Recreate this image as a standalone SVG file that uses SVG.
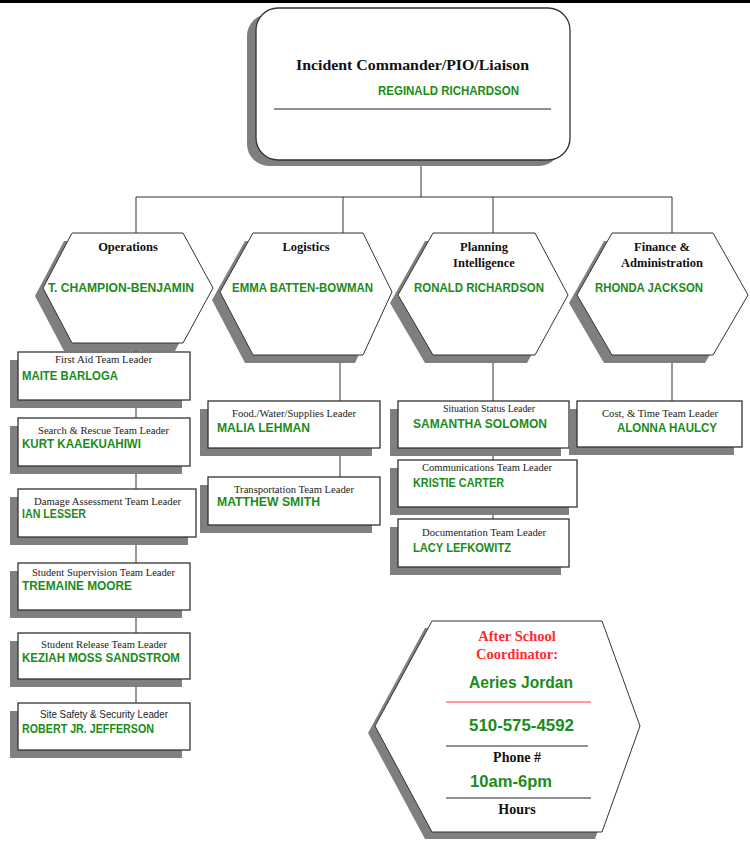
<svg xmlns="http://www.w3.org/2000/svg" width="750" height="849" viewBox="0 0 750 849">
<style>
.sh{fill:#7f7f7f;stroke:none}
.bx{fill:#fff;stroke:#333;stroke-width:1.3}
.hx{fill:#fff;stroke:#333;stroke-width:1}
.cn{stroke:#333;stroke-width:1;fill:none}
.nm{font-family:"Liberation Sans",Arial,sans-serif;font-weight:bold;font-size:13px;fill:#1a8c1a}
.tt{font-family:"Liberation Serif","Times New Roman",serif;font-size:11px;fill:#222}
.ht{font-family:"Liberation Serif","Times New Roman",serif;font-weight:bold;font-size:12.5px;fill:#111;text-anchor:middle}
.big{font-family:"Liberation Sans",Arial,sans-serif;font-weight:bold;font-size:17px;fill:#1a8c1a}
.red{font-family:"Liberation Serif","Times New Roman",serif;font-weight:bold;font-size:14.5px;fill:#ff2a2a;text-anchor:middle}
.lbl{font-family:"Liberation Serif","Times New Roman",serif;font-weight:bold;font-size:14px;fill:#111;text-anchor:middle}
</style>
<rect x="0" y="0" width="750" height="849" fill="#fff"/>
<rect x="0" y="0" width="750" height="3" fill="#000"/>

<g id="connectors" class="cn">
<path d="M421 160V197M136 197H672M136 197V233M343 197V233M493 197V233M672 197V233"/>
<path d="M136 343V703"/>
<path d="M340 355V477"/>
<path d="M493 355V519"/>
<path d="M672 355V401"/>
</g>

<g id="commander">
<rect class="sh" x="247" y="14" width="314" height="152" rx="22"/>
<rect class="bx" x="256" y="8" width="314" height="152" rx="22"/>
<text x="296" y="70" font-family="Liberation Serif,serif" font-weight="bold" font-size="15" fill="#111" textLength="233" lengthAdjust="spacingAndGlyphs">Incident Commander/PIO/Liaison</text>
<text class="nm" x="378" y="95" textLength="141" lengthAdjust="spacingAndGlyphs">REGINALD RICHARDSON</text>
<line x1="274" y1="109" x2="551" y2="109" stroke="#222" stroke-width="1"/>
</g>

<g id="operations">
<polygon class="sh" points="64,241 175,241 205,296 175,351 64,351 35,296"/>
<polygon class="hx" points="72,233 183,233 213,288 183,343 72,343 43,288"/>
<text class="ht" x="128" y="251">Operations</text>
<text class="nm" x="48" y="292" textLength="146" lengthAdjust="spacingAndGlyphs">T. CHAMPION-BENJAMIN</text>
</g>

<g id="logistics">
<polygon class="sh" points="245,241 355,241 384,300 355,363 245,363 212,300"/>
<polygon class="hx" points="253,233 363,233 392,292 363,355 253,355 220,292"/>
<text class="ht" x="306" y="251">Logistics</text>
<text class="nm" x="232" y="292" textLength="141" lengthAdjust="spacingAndGlyphs">EMMA BATTEN-BOWMAN</text>
</g>

<g id="planning">
<polygon class="sh" points="425,241 527,241 560,303 527,363 425,363 390,303"/>
<polygon class="hx" points="433,233 535,233 568,295 535,355 433,355 398,295"/>
<text class="ht" x="484" y="251">Planning</text>
<text class="ht" x="484" y="267">Intelligence</text>
<text class="nm" x="414" y="292" textLength="130" lengthAdjust="spacingAndGlyphs">RONALD RICHARDSON</text>
</g>

<g id="finance">
<polygon class="sh" points="604,241 705,241 740,303 705,363 604,363 569,303"/>
<polygon class="hx" points="612,233 713,233 748,295 713,355 612,355 577,295"/>
<text class="ht" x="662" y="251">Finance &amp;</text>
<text class="ht" x="662" y="267">Administration</text>
<text class="nm" x="595" y="292" textLength="108" lengthAdjust="spacingAndGlyphs">RHONDA JACKSON</text>
</g>

<g id="first-aid">
<rect class="sh" x="10" y="360" width="172" height="48"/>
<rect class="bx" x="18" y="352" width="172" height="48"/>
<text class="tt" x="55" y="363" textLength="97" lengthAdjust="spacingAndGlyphs">First Aid Team Leader</text>
<text class="nm" x="22" y="380" textLength="96" lengthAdjust="spacingAndGlyphs">MAITE BARLOGA</text>
</g>

<g id="search-rescue">
<rect class="sh" x="10" y="426" width="172" height="48"/>
<rect class="bx" x="18" y="418" width="172" height="48"/>
<text class="tt" x="38" y="433.5" textLength="131" lengthAdjust="spacingAndGlyphs">Search &amp; Rescue Team Leader</text>
<text class="nm" x="22" y="448" textLength="119" lengthAdjust="spacingAndGlyphs">KURT KAAEKUAHIWI</text>
</g>

<g id="damage-assessment">
<rect class="sh" x="10" y="497" width="178" height="48"/>
<rect class="bx" x="18" y="489" width="178" height="48"/>
<text class="tt" x="34" y="504.5" textLength="147" lengthAdjust="spacingAndGlyphs">Damage Assessment Team Leader</text>
<text class="nm" x="22" y="518" textLength="64" lengthAdjust="spacingAndGlyphs">IAN LESSER</text>
</g>

<g id="student-supervision">
<rect class="sh" x="10" y="571" width="172" height="47"/>
<rect class="bx" x="18" y="563" width="172" height="47"/>
<text class="tt" x="32" y="576" textLength="143" lengthAdjust="spacingAndGlyphs">Student Supervision Team Leader</text>
<text class="nm" x="22" y="590" textLength="110" lengthAdjust="spacingAndGlyphs">TREMAINE MOORE</text>
</g>

<g id="student-release">
<rect class="sh" x="10" y="641" width="172" height="46"/>
<rect class="bx" x="18" y="633" width="172" height="46"/>
<text class="tt" x="41" y="647.5" textLength="126" lengthAdjust="spacingAndGlyphs">Student Release Team Leader</text>
<text class="nm" x="22" y="662" textLength="158" lengthAdjust="spacingAndGlyphs">KEZIAH MOSS SANDSTROM</text>
</g>

<g id="site-safety">
<rect class="sh" x="10" y="711" width="172" height="47"/>
<rect class="bx" x="18" y="703" width="172" height="47"/>
<text x="40" y="717.5" font-family="Liberation Sans,Arial,sans-serif" font-size="10.5" fill="#222" textLength="128" lengthAdjust="spacingAndGlyphs">Site Safety &amp; Security Leader</text>
<text class="nm" x="22" y="733" textLength="132" lengthAdjust="spacingAndGlyphs">ROBERT JR. JEFFERSON</text>
</g>

<g id="food-water">
<rect class="sh" x="200" y="409" width="172" height="47"/>
<rect class="bx" x="208" y="401" width="172" height="47"/>
<text class="tt" x="232" y="416.5" textLength="124" lengthAdjust="spacingAndGlyphs">Food./Water/Supplies Leader</text>
<text class="nm" x="217" y="432" textLength="93" lengthAdjust="spacingAndGlyphs">MALIA LEHMAN</text>
</g>

<g id="transportation">
<rect class="sh" x="200" y="485" width="172" height="48"/>
<rect class="bx" x="208" y="477" width="172" height="48"/>
<text class="tt" x="234" y="492.5" textLength="120" lengthAdjust="spacingAndGlyphs">Transportation Team Leader</text>
<text class="nm" x="217" y="506" textLength="103" lengthAdjust="spacingAndGlyphs">MATTHEW SMITH</text>
</g>

<g id="situation">
<rect class="sh" x="390" y="409" width="171" height="47"/>
<rect class="bx" x="398" y="401" width="171" height="47"/>
<text class="tt" x="443" y="412" fill="#555" textLength="92" lengthAdjust="spacingAndGlyphs">Situation Status Leader</text>
<text class="nm" x="413" y="428" textLength="134" lengthAdjust="spacingAndGlyphs">SAMANTHA SOLOMON</text>
</g>

<g id="communications">
<rect class="sh" x="390" y="468" width="179" height="47"/>
<rect class="bx" x="398" y="460" width="179" height="47"/>
<text class="tt" x="422" y="471" textLength="130" lengthAdjust="spacingAndGlyphs">Communications Team Leader</text>
<text class="nm" x="413" y="487" textLength="91" lengthAdjust="spacingAndGlyphs">KRISTIE CARTER</text>
</g>

<g id="documentation">
<rect class="sh" x="390" y="527" width="171" height="48"/>
<rect class="bx" x="398" y="519" width="171" height="48"/>
<text class="tt" x="422" y="535.5" textLength="124" lengthAdjust="spacingAndGlyphs">Documentation Team Leader</text>
<text class="nm" x="413" y="552" textLength="98" lengthAdjust="spacingAndGlyphs">LACY LEFKOWITZ</text>
</g>

<g id="cost-time">
<rect class="sh" x="569" y="409" width="165" height="46"/>
<rect class="bx" x="577" y="401" width="165" height="46"/>
<text class="tt" x="602" y="416.5" textLength="116" lengthAdjust="spacingAndGlyphs">Cost, &amp; Time Team Leader</text>
<text class="nm" x="617" y="432" textLength="100" lengthAdjust="spacingAndGlyphs">ALONNA HAULCY</text>
</g>

<g id="after-school">
<polygon class="sh" points="425,628 595,628 633,733 595,839 425,839 368,733"/>
<polygon class="hx" points="432,621 602,621 640,726 602,832 432,832 375,726"/>
<text class="red" x="517" y="641">After School</text>
<text class="red" x="517" y="659">Coordinator:</text>
<text class="big" x="469" y="688" textLength="104" lengthAdjust="spacingAndGlyphs">Aeries Jordan</text>
<line x1="446" y1="702" x2="591" y2="702" stroke="#ff3333" stroke-width="1.2"/>
<text class="big" x="469" y="731" textLength="105" lengthAdjust="spacingAndGlyphs">510-575-4592</text>
<line x1="446" y1="746" x2="588" y2="746" stroke="#222" stroke-width="1"/>
<text class="lbl" x="517" y="762">Phone #</text>
<text class="big" x="470" y="787" textLength="82" lengthAdjust="spacingAndGlyphs">10am-6pm</text>
<line x1="446" y1="798" x2="591" y2="798" stroke="#222" stroke-width="1"/>
<text class="lbl" x="517" y="814">Hours</text>
</g>
</svg>
